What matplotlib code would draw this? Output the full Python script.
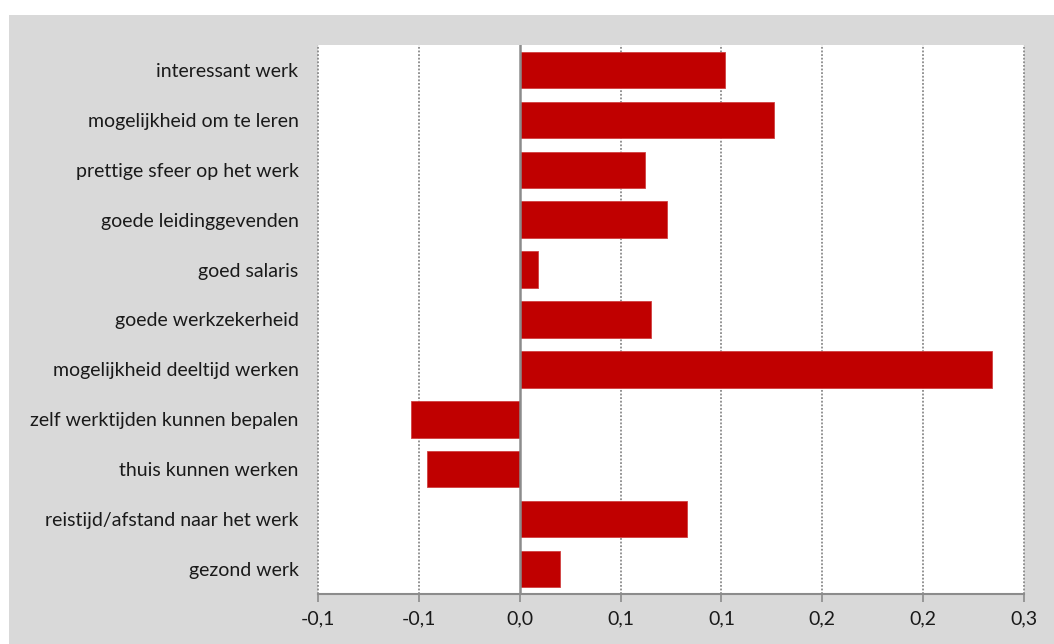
import matplotlib
matplotlib.use("Agg")
import matplotlib.pyplot as plt
from matplotlib.patches import Rectangle

# Factors (top to bottom) and their scores
categories = [
    "interessant werk",
    "mogelijkheid om te leren",
    "prettige sfeer op het werk",
    "goede leidinggevenden",
    "goed salaris",
    "goede werkzekerheid",
    "mogelijkheid deeltijd werken",
    "zelf werktijden kunnen bepalen",
    "thuis kunnen werken",
    "reistijd/afstand naar het werk",
    "gezond werk",
]
values = [0.102, 0.126, 0.062, 0.073, 0.009, 0.065, 0.234, -0.054, -0.046, 0.083, 0.020]

x_ticks = [-0.10, -0.05, 0.0, 0.05, 0.10, 0.15, 0.20, 0.25]
x_tick_labels = ["-0,1", "-0,1", "0,0", "0,1", "0,1", "0,2", "0,2", "0,3"]

plt.rcParams["font.family"] = ["Lato", "DejaVu Sans"]

W, H = 1054, 644
fig = plt.figure(figsize=(W / 100, H / 100), dpi=100, facecolor="white")

# grey chart area behind the plot
bg = Rectangle((9 / W, 0), (W - 9) / W, (H - 15) / H,
               transform=fig.transFigure, facecolor="#d9d9d9",
               edgecolor="none", zorder=-10)
fig.add_artist(bg)

ax = fig.add_axes([318 / W, (H - 594) / H, 706 / W, 549 / H])
ax.set_zorder(1)
ax.set_facecolor("white")

n = len(categories)
ypos = list(range(n))
ax.barh(ypos, values, height=0.73, color="#c00000", edgecolor="#d04040",
        linewidth=0.6, zorder=3)

ax.set_ylim(n - 0.5, -0.5)
ax.set_xlim(x_ticks[0], x_ticks[-1])

ax.set_yticks(ypos)
ax.set_yticklabels(categories, fontsize=14, color="#1a1a1a")
ax.tick_params(axis="y", length=0, pad=14)

ax.set_xticks(x_ticks)
ax.set_xticklabels(x_tick_labels, fontsize=14, color="#1a1a1a")
ax.tick_params(axis="x", direction="out", length=6, width=1.2,
               color="#8c8c8c", pad=6)

for s in ["top", "right", "left"]:
    ax.spines[s].set_visible(False)
ax.spines["bottom"].set_color("#8c8c8c")
ax.spines["bottom"].set_linewidth(1.5)
ax.spines["bottom"].set_zorder(4)

# vertical dotted gridlines, solid zero line
for t in x_ticks:
    if t == 0:
        ax.axvline(t, color="#8c8c8c", linewidth=1.8, zorder=4)
    else:
        ax.axvline(t, color="#8a8a8a", linewidth=1.3, linestyle=(0, (1, 1)),
                   zorder=1, clip_on=False)

fig.savefig("out.png", dpi=100, facecolor=fig.get_facecolor())
